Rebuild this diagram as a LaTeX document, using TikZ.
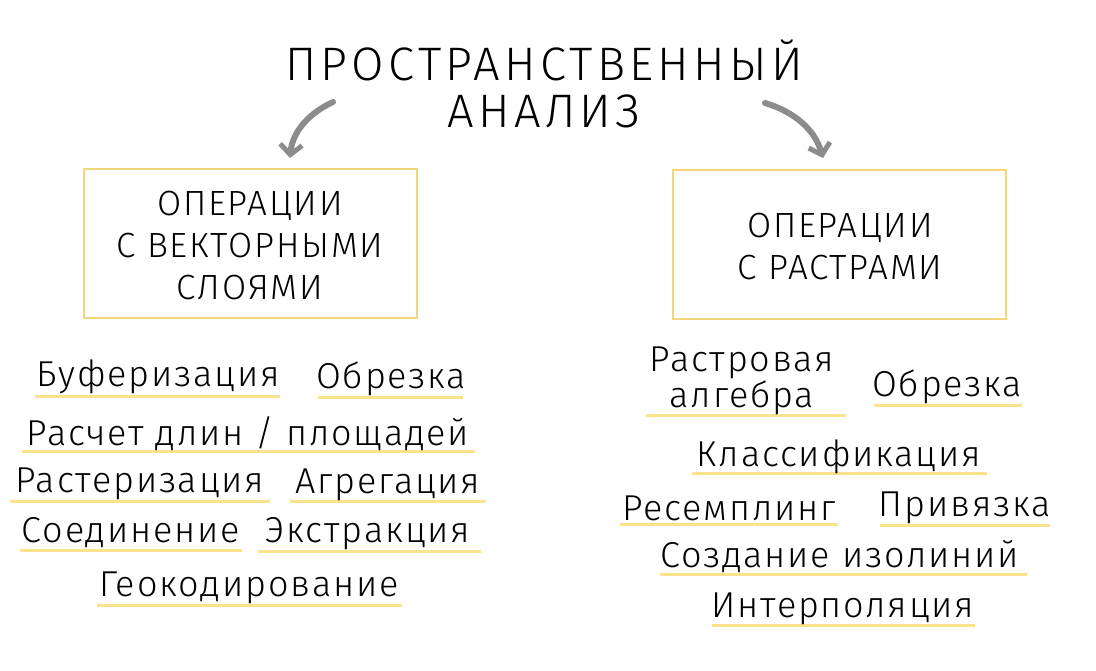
\documentclass[tikz,border=0pt]{standalone}
\usepackage{fontspec}
\setmainfont{Fira Sans Light}[LetterSpace=5]
\newfontfamily\ttlfont{Fira Sans Light}[LetterSpace=9]
\usetikzlibrary{arrows.meta}
\definecolor{ul}{HTML}{FBE38E}
\definecolor{bx}{HTML}{F0D77A}
\definecolor{ar}{HTML}{8C8C8C}
\tikzset{
 lbl/.style={font=\fontsize{36}{42}\selectfont, inner sep=0pt, align=center},
 ttl/.style={font=\ttlfont\fontsize{47}{52}\selectfont, inner sep=0pt},
 box/.style={draw=bx, line width=1.2pt},
 btxt/.style={font=\fontsize{35}{42}\selectfont, align=center, inner sep=0pt},
 uline/.style={draw=ul, line width=3pt},
 garrow/.style={draw=ar, line width=6pt, line cap=round, -{Straight Barb[length=10pt,width=22pt,line width=5pt]}}
}
\begin{document}
\begin{tikzpicture}[x=1pt,y=-1pt]
\useasboundingbox (0,0) rectangle (1096,671);
\node[ttl] (t1) at (544,60) {ПРОСТРАНСТВЕННЫЙ};
\node[ttl] (t2) at (544,111) {АНАЛИЗ};
\coordinate (la) at (333,102); \coordinate (lb) at (290,158);
\coordinate (ra) at (765,103); \coordinate (rb) at (823,158);
\draw[garrow] (la) .. controls (305,115) and (292,135) .. (lb);
\draw[garrow] (ra) .. controls (795,112) and (815,130) .. (rb);
\draw[box] (84,169) rectangle (417,318);
\node[btxt] (bl) at (250,246) {ОПЕРАЦИИ\\С ВЕКТОРНЫМИ\\СЛОЯМИ};
\draw[box] (673,170) rectangle (1006,319);
\node[btxt] (br) at (840,247) {ОПЕРАЦИИ\\С РАСТРАМИ};
\def\U#1#2#3{\draw[uline] (#1,#3) -- (#2,#3);}
\U{35}{280}{396}\node[lbl] (a1) at (158,377) {Буферизация};
\U{318}{463}{397}\node[lbl] (a2) at (391,379) {Обрезка};
\U{22}{475}{451}\node[lbl] (a3) at (248,434) {Расчет длин / площадей};
\U{10}{270}{501}\node[lbl] (a4) at (140,484) {Растеризация};
\U{290}{486}{501}\node[lbl] (a5) at (388,485) {Агрегация};
\U{20}{242}{550}\node[lbl] (a6) at (131,533) {Соединение};
\U{258}{481}{551}\node[lbl] (a7) at (368,534) {Экстракция};
\U{97}{402}{605}\node[lbl] (a8) at (249,588) {Геокодирование};
\U{646}{846}{415}\node[lbl,font=\fontsize{36}{36}\selectfont] (b1) at (742,381) {Растровая\\алгебра};
\U{874}{1022}{405}\node[lbl] (b2) at (947,387) {Обрезка};
\U{692}{987}{473}\node[lbl] (b3) at (839,457) {Классификация};
\U{620}{838}{524}\node[lbl] (b4) at (729,508) {Ресемплинг};
\U{880}{1050}{525}\node[lbl] (b5) at (965,508) {Привязка};
\U{660}{1027}{574}\node[lbl] (b6) at (840,557) {Создание изолиний};
\U{712}{975}{625}\node[lbl] (b7) at (843,609) {Интерполяция};
\end{tikzpicture}
\end{document}
